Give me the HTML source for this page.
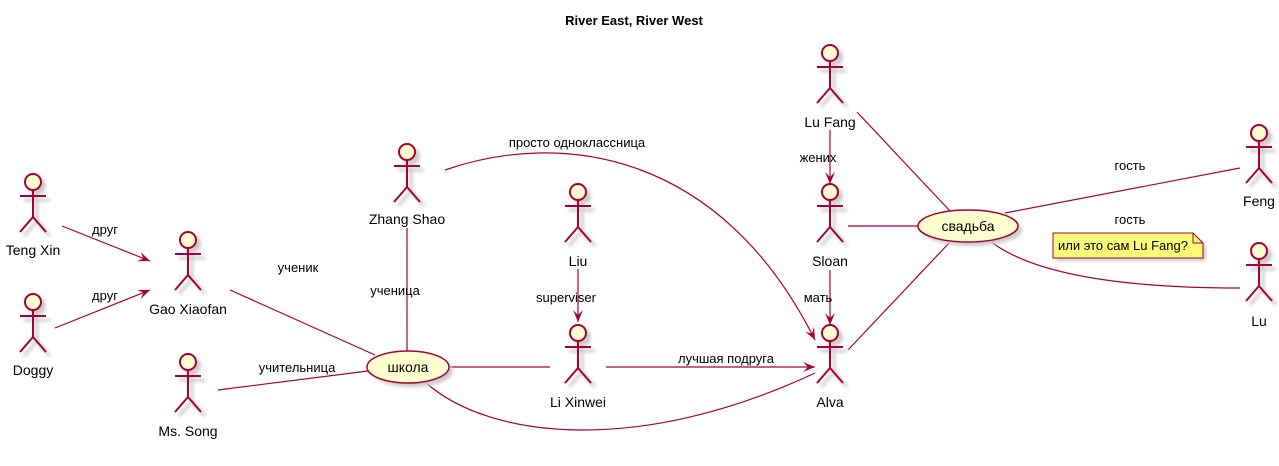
<!DOCTYPE html>
<html><head><meta charset="utf-8"><style>
body{margin:0;background:#fff}
svg{display:block;font-family:"Liberation Sans",sans-serif}
.a circle{fill:#FEFECE;stroke:#A80036;stroke-width:2}
.a line,.a polyline{stroke:#A80036;stroke-width:2;fill:none}
.s circle{fill:#ccc;stroke:#ccc;stroke-width:2}
.s line,.s polyline{stroke:#ccc;stroke-width:3;fill:none}
.e{stroke:#A80036;stroke-width:1.2;fill:none}
text{font-size:13px;fill:#000}
.n{text-anchor:middle;font-size:14px}
.l{text-anchor:middle}
</style></head><body>
<svg width="1279" height="466" viewBox="0 0 1279 466">
<defs>
<filter id="b" x="-50%" y="-50%" width="200%" height="200%"><feGaussianBlur stdDeviation="1.5"/></filter>
<marker id="m" markerWidth="12" markerHeight="10" refX="12" refY="5" orient="auto" markerUnits="userSpaceOnUse">
<path d="M0,0 L12,5 L0,10 L5,5 Z" fill="#A80036"/></marker>
<g id="act">
<g class="s" transform="translate(4,4)" filter="url(#b)"><circle cx="0" cy="0" r="8"/><line x1="0" y1="8" x2="0" y2="35"/><line x1="-13" y1="14" x2="13" y2="14"/><polyline points="-13,50 0,35 13,50"/></g>
<g class="a"><circle cx="0" cy="0" r="8"/><line x1="0" y1="8" x2="0" y2="35"/><line x1="-13" y1="14" x2="13" y2="14"/><polyline points="-13,50 0,35 13,50"/></g>
</g>
</defs>
<text x="634" y="25" text-anchor="middle" style="font-weight:bold;font-size:13px">River East, River West</text>

<line class="e" x1="62" y1="226" x2="150" y2="261" marker-end="url(#m)"/>
<line class="e" x1="55" y1="328" x2="150" y2="290" marker-end="url(#m)"/>
<line class="e" x1="230" y1="290" x2="375" y2="355"/>
<line class="e" x1="218" y1="390" x2="368" y2="371"/>
<line class="e" x1="407" y1="228" x2="407" y2="351"/>
<line class="e" x1="450" y1="367" x2="550" y2="367"/>
<path class="e" d="M425,382 C490,440 640,455 815,373"/>
<line class="e" x1="606" y1="367" x2="815" y2="367" marker-end="url(#m)"/>
<path class="e" d="M445,170 C560,130 720,150 815,340" marker-end="url(#m)"/>
<line class="e" x1="578" y1="269" x2="578" y2="322" marker-end="url(#m)"/>
<line class="e" x1="830" y1="130" x2="830" y2="184" marker-end="url(#m)"/>
<line class="e" x1="830" y1="270" x2="830" y2="325" marker-end="url(#m)"/>
<line class="e" x1="857" y1="112" x2="950" y2="211"/>
<line class="e" x1="848" y1="226" x2="918" y2="226"/>
<line class="e" x1="848" y1="350" x2="950" y2="242"/>
<line class="e" x1="1005" y1="213" x2="1240" y2="168"/>
<path class="e" d="M990,241 C1040,280 1150,288 1240,288"/>

<text class="l" x="105" y="234">друг</text>
<text class="l" x="105" y="300">друг</text>
<text class="l" x="298" y="272">ученик</text>
<text class="l" x="297" y="372">учительница</text>
<text class="l" x="395" y="295">ученица</text>
<text class="l" x="726" y="363">лучшая подруга</text>
<text class="l" x="577" y="147">просто одноклассница</text>
<text class="l" x="566" y="302">superviser</text>
<text class="l" x="818" y="162">жених</text>
<text class="l" x="818" y="302">мать</text>
<text class="l" x="1130" y="170">гость</text>
<text class="l" x="1130" y="224">гость</text>

<ellipse cx="412" cy="371" rx="41" ry="16" fill="#ccc" filter="url(#b)"/>
<ellipse cx="408" cy="367" rx="41" ry="16" fill="#FEFECE" stroke="#A80036" stroke-width="1.5"/>
<text class="l" x="408" y="372" style="font-size:14px">школа</text>
<ellipse cx="972" cy="230" rx="50" ry="16" fill="#ccc" filter="url(#b)"/>
<ellipse cx="968" cy="226" rx="50" ry="16" fill="#FEFECE" stroke="#A80036" stroke-width="1.5"/>
<text class="l" x="968" y="231" style="font-size:14px">свадьба</text>

<path d="M1056,236 L1196,236 L1206,246 L1206,261 L1056,261 Z" fill="#ccc" filter="url(#b)"/>
<path d="M1053,233 L1193,233 L1203,243 L1203,258 L1053,258 Z" fill="#FBFB77" stroke="#A80036" stroke-width="1"/>
<path d="M1193,233 L1193,243 L1203,243" fill="none" stroke="#A80036" stroke-width="1"/>
<text x="1058" y="250">или это сам Lu Fang?</text>

<use href="#act" x="33" y="182"/><text class="n" x="33" y="255">Teng Xin</text>
<use href="#act" x="33" y="302"/><text class="n" x="33" y="375">Doggy</text>
<use href="#act" x="188" y="240"/><text class="n" x="188" y="314">Gao Xiaofan</text>
<use href="#act" x="188" y="362"/><text class="n" x="188" y="436">Ms. Song</text>
<use href="#act" x="407" y="152"/><text class="n" x="407" y="224">Zhang Shao</text>
<use href="#act" x="578" y="192"/><text class="n" x="578" y="266">Liu</text>
<use href="#act" x="578" y="333"/><text class="n" x="578" y="407">Li Xinwei</text>
<use href="#act" x="830" y="53"/><text class="n" x="830" y="127">Lu Fang</text>
<use href="#act" x="830" y="192"/><text class="n" x="830" y="266">Sloan</text>
<use href="#act" x="830" y="333"/><text class="n" x="830" y="407">Alva</text>
<use href="#act" x="1259" y="133"/><text class="n" x="1259" y="206">Feng</text>
<use href="#act" x="1259" y="251"/><text class="n" x="1259" y="326">Lu</text>
</svg>
</body></html>
